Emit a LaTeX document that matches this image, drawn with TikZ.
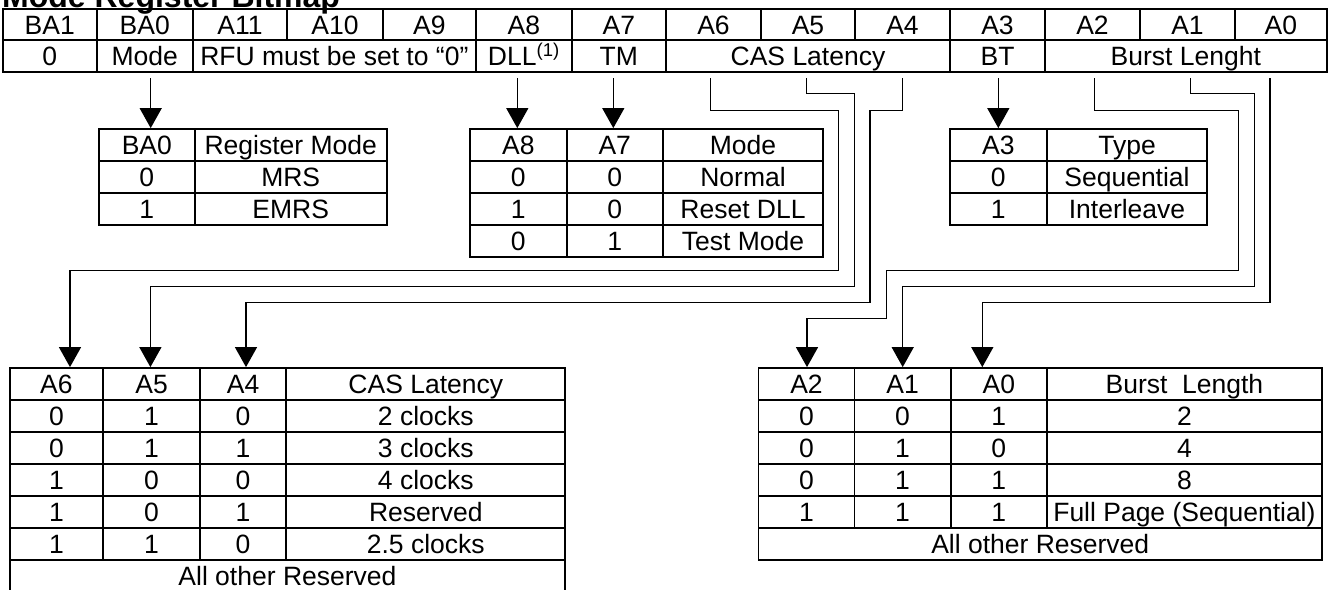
\documentclass[tikz,border=0pt]{standalone}
\usepackage{fontspec}
\setmainfont{Liberation Sans}
\usetikzlibrary{arrows.meta}
\newcommand\tabfont{\fontsize{26.5}{31}\selectfont}
\newcommand\cellbox[6]{\node[cellst, minimum width={(#4)-(#2)}, minimum height={(#5)-(#3)}] (#1) at ({((#2)+(#4))/2},{((#3)+(#5))/2}) {#6};}
\begin{document}
\begin{tikzpicture}[x=1pt,y=-1pt,
  cellst/.style={draw, line width=1.8pt, inner sep=0pt, text height=19pt, text depth=0pt, font=\tabfont},
  route/.style={line width=1.3pt, line join=miter},
  arr/.style={route, -{Triangle[length=20pt,width=22pt]}}]
\useasboundingbox (0,0) rectangle (1332,589);
% title (cut at top edge)
\node[anchor=base west, inner sep=0pt, font={\fontsize{32}{36}\selectfont\bfseries}] (title) at (2,7) {Mode Register Bitmap};
% top table, row 1
\foreach \xa/\xb/\t [count=\i] in {2.7/96.7/BA1, 96.7/192.7/BA0, 192.7/287.3/A11, 287.3/382.7/A10, 382.7/476/A9, 476/571.7/A8, 571.7/666/A7, 666/761/A6, 761/855/A5, 855/950/A4, 950/1045/A3, 1045/1140/A2, 1140/1235/A1, 1235/1326.7/A0}
  {\cellbox{ta-\i}{\xa}{9.3}{\xb}{40}{\t}}
% top table, row 2
\cellbox{tb-1}{2.7}{40}{96.7}{71.7}{0}
\cellbox{tb-2}{96.7}{40}{192.7}{71.7}{Mode}
\cellbox{tb-3}{192.7}{40}{476}{71.7}{RFU must be set to “0”}
\cellbox{tb-4}{476}{40}{571.7}{71.7}{DLL\textsuperscript{(1)}}
\cellbox{tb-5}{571.7}{40}{666}{71.7}{TM}
\cellbox{tb-6}{666}{40}{950}{71.7}{CAS Latency}
\cellbox{tb-7}{950}{40}{1045}{71.7}{BT}
\cellbox{tb-8}{1045}{40}{1326.7}{71.7}{Burst Lenght}
% BA0 table
\foreach \r/\ya/\yb/\ta/\tb in {0/129/160.7/BA0/Register Mode, 1/160.7/192.7/0/MRS, 2/192.7/224.7/1/EMRS}
  {\cellbox{m\r-1}{99}{\ya}{194.7}{\yb}{\ta}
   \cellbox{m\r-2}{194.7}{\ya}{386.7}{\yb}{\tb}}
% A8/A7 table
\foreach \r/\ya/\yb/\ta/\tb/\tc in {0/129/160.7/A8/A7/Mode, 1/160.7/192.7/0/0/Normal, 2/192.7/225/1/0/Reset DLL, 3/225/256.7/0/1/Test Mode}
  {\cellbox{d\r-1}{470}{\ya}{566.7}{\yb}{\ta}
   \cellbox{d\r-2}{566.7}{\ya}{662.7}{\yb}{\tb}
   \cellbox{d\r-3}{662.7}{\ya}{823.3}{\yb}{\tc}}
% A3 table
\foreach \r/\ya/\yb/\ta/\tb in {0/129/160.7/A3/Type, 1/160.7/192.7/0/Sequential, 2/192.7/224.7/1/Interleave}
  {\cellbox{y\r-1}{950}{\ya}{1046.7}{\yb}{\ta}
   \cellbox{y\r-2}{1046.7}{\ya}{1207.3}{\yb}{\tb}}
% CAS latency table
\foreach \r/\ya/\yb/\ta/\tb/\tc/\td in {0/368/400/A6/A5/A4/CAS Latency, 1/400/432/0/1/0/2 clocks, 2/432/464/0/1/1/3 clocks, 3/464/496/1/0/0/4 clocks, 4/496/528/1/0/1/Reserved, 5/528/560/1/1/0/2.5 clocks}
  {\cellbox{c\r-1}{9.6}{\ya}{103.3}{\yb}{\ta}
   \cellbox{c\r-2}{103.3}{\ya}{199.8}{\yb}{\tb}
   \cellbox{c\r-3}{199.8}{\ya}{286.3}{\yb}{\tc}
   \cellbox{c\r-4}{286.3}{\ya}{565.3}{\yb}{\td}}
\cellbox{c6}{9.6}{560}{565.3}{592}{All other Reserved}
% Burst length table
\foreach \r/\ya/\yb/\ta/\tb/\tc/\td in {0/368/400/A2/A1/A0/Burst\ \ Length, 1/400/432/0/0/1/2, 2/432/464/0/1/0/4, 3/464/496/0/1/1/8, 4/496/528/1/1/1/Full Page (Sequential)}
  {\cellbox{b\r-1}{758.5}{\ya}{854.4}{\yb}{\ta}
   \cellbox{b\r-2}{854.4}{\ya}{950.8}{\yb}{\tb}
   \cellbox{b\r-3}{950.8}{\ya}{1046.8}{\yb}{\tc}
   \cellbox{b\r-4}{1046.8}{\ya}{1322}{\yb}{\td}}
\cellbox{b5}{758.5}{528}{1322}{560}{All other Reserved}
% start points of connectors
\coordinate (sBA0) at (150.7,78);
\coordinate (sA8) at (517.3,78);
\coordinate (sA7) at (613.3,78);
\coordinate (sA6) at (710.7,78);
\coordinate (sA5) at (806.7,78);
\coordinate (sA4) at (902.3,78);
\coordinate (sA3) at (998.3,78);
\coordinate (sA2) at (1094.5,78);
\coordinate (sA1) at (1190.7,78);
\coordinate (sA0) at (1270,78);
% straight arrows
\draw[arr] (sBA0) -- (sBA0 |- m0-1.north);
\draw[arr] (sA8) -- (sA8 |- d0-1.north);
\draw[arr] (sA7) -- (sA7 |- d0-2.north);
\draw[arr] (sA3) -- (sA3 |- y0-1.north);
% routed connectors to CAS latency table
\draw[arr] (sA6) -- (710.7,110.7) -- (838.3,110.7) -- (838.3,270.7) -- (70,270.7) -- (70,0 |- c0-1.north);
\draw[arr] (sA5) -- (806.7,93.3) -- (854.3,93.3) -- (854.3,286.7) -- (150.4,286.7) -- (150.4,0 |- c0-2.north);
\draw[arr] (sA4) -- (902.3,110.7) -- (870,110.7) -- (870,302.3) -- (246,302.3) -- (246,0 |- c0-3.north);
% routed connectors to burst length table
\draw[arr] (sA2) -- (1094.5,110.7) -- (1238.5,110.7) -- (1238.5,270.7) -- (886.7,270.7) -- (886.7,318.3) -- (807,318.3) -- (807,0 |- b0-1.north);
\draw[arr] (sA1) -- (1190.7,93.3) -- (1254.7,93.3) -- (1254.7,286.7) -- (902.7,286.7) -- (902.7,0 |- b0-2.north);
\draw[arr] (sA0) -- (1270,302.3) -- (982.3,302.3) -- (982.3,0 |- b0-3.north);
\end{tikzpicture}
\end{document}
